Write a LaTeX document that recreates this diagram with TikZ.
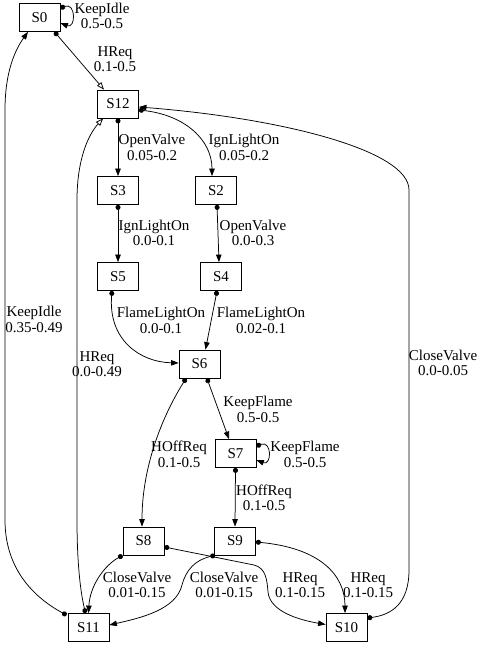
\documentclass[tikz,border=0pt]{standalone}
\usepackage{fontspec}
\setmainfont{Liberation Serif}
\usetikzlibrary{arrows.meta,calc}
\begin{document}
\begin{tikzpicture}[x=1pt,y=-1pt,
  state/.style={draw, line width=0.8pt, minimum width=41pt, minimum height=28pt, inner sep=0pt, font=\fontsize{15}{16}\selectfont},
  lbl/.style={align=center, inner sep=0pt, font=\fontsize{15}{15.5}\selectfont},
  tr/.style={line width=0.75pt, {Circle[length=5pt]}-{Triangle[length=7.5pt,width=5.5pt]}},
  tro/.style={line width=0.75pt, {Circle[length=5pt]}-{Triangle[open,length=7.5pt,width=5.5pt]}},
]
\useasboundingbox (0,0) rectangle (479,647);
% states
\node[state] (S0)  at (39.5,17.5) {S0};
\node[state] (S12) at (118,104) {S12};
\node[state] (S3)  at (118,190.5) {S3};
\node[state] (S2)  at (216,190.5) {S2};
\node[state] (S5)  at (118,276.5) {S5};
\node[state] (S4)  at (221,276.5) {S4};
\node[state] (S6)  at (199.5,364) {S6};
\node[state] (S7)  at (235.5,453.5) {S7};
\node[state] (S8)  at (143.5,541) {S8};
\node[state] (S9)  at (235,541) {S9};
\node[state] (S11) at (88.5,627.5) {S11};
\node[state] (S10) at (346.5,627.5) {S10};
% labels
\node[lbl] (l1)  at (102,16) {KeepIdle\\0.5-0.5};
\node[lbl] (l2)  at (115,59) {HReq\\0.1-0.5};
\node[lbl] (l3)  at (152,147.5) {OpenValve\\0.05-0.2};
\node[lbl] (l4)  at (244,147.5) {IgnLightOn\\0.05-0.2};
\node[lbl] (l5)  at (443,363) {CloseValve\\0.0-0.05};
\node[lbl] (l6)  at (154,233) {IgnLightOn\\0.0-0.1};
\node[lbl] (l7)  at (253,233) {OpenValve\\0.0-0.3};
\node[lbl] (l8)  at (161,320.5) {FlameLightOn\\0.0-0.1};
\node[lbl] (l9)  at (261,320.5) {FlameLightOn\\0.02-0.1};
\node[lbl] (l10) at (258,409.5) {KeepFlame\\0.5-0.5};
\node[lbl] (l11) at (305,454.5) {KeepFlame\\0.5-0.5};
\node[lbl] (l12) at (179,454.5) {HOffReq\\0.1-0.5};
\node[lbl] (l13) at (264,498) {HOffReq\\0.1-0.5};
\node[lbl] (l14) at (137,585) {CloseValve\\0.01-0.15};
\node[lbl] (l15) at (224,585) {CloseValve\\0.01-0.15};
\node[lbl] (l16) at (300,585) {HReq\\0.1-0.15};
\node[lbl] (l17) at (368,585) {HReq\\0.1-0.15};
\node[lbl] (l18) at (34,319.5) {KeepIdle\\0.35-0.49};
\node[lbl] (l19) at (97,364) {HReq\\0.0-0.49};
% edges
\draw[tr] ($(S0.north east)+(0,5)$) .. controls (76,2) and (76,29) .. ($(S0.north east)+(0,20)$);
\draw[tro] ($(S0.south)+(15,0)$) -- ($(S12.north)+(-14,0)$);
\draw[tr] (S12.south) -- (S3.north);
\draw[tr] ($(S12.east)+(0,6)$) .. controls (185,115) and (212,140) .. ($(S2.north)+(-4,0)$);
\draw[tr] ($(S10.east)+(0,-9.5)$) .. controls (390,615) and (409,605) .. (409,570) -- (409,190)
   .. controls (409,150) and (280,118) .. ($(S12.east)+(0,3)$);
\draw[tr] (S3.south) -- (S5.north);
\draw[tr] ($(S2.south)+(1,0)$) -- ($(S4.north)+(-2,0)$);
\draw[tr] ($(S5.south)+(-6,0)$) .. controls (108,340) and (140,362) .. ($(S6.west)+(0,-1)$);
\draw[tr] ($(S4.south)+(-4,0)$) -- ($(S6.north)+(6,0)$);
\draw[tr] ($(S6.south)+(7.5,0)$) -- ($(S7.north)+(-6.5,0)$);
\draw[tr] ($(S7.north east)+(0,7)$) .. controls (272,440) and (272,466) .. ($(S7.north east)+(0,21)$);
\draw[tr] ($(S6.south)+(-13.5,0)$) .. controls (160,420) and (142,470) .. ($(S8.north)+(-1.5,0)$);
\draw[tr] (S7.south) -- (S9.north);
\draw[tr] (S8.south west) .. controls (105,565) and (90,585) .. (S11.north);
\draw[tr] ($(S8.east)+(0,6)$) -- (254,565) .. controls (266,568) and (267,580) .. (268,592)
   .. controls (270,612) and (300,620) .. ($(S10.west)+(0,-3)$);
\draw[tr] ($(S9.south west)+(1,0)$) .. controls (195,560) and (186,570) .. (182,585)
   .. controls (176,610) and (140,618) .. ($(S11.east)+(0,-2.5)$);
\draw[tr] ($(S9.east)+(0,1)$) .. controls (320,548) and (345,575) .. ($(S10.north)+(-1.5,0)$);
\draw[tr] ($(S11.north west)+(-1,2)$) .. controls (35,598) and (5,570) .. (5,520) -- (5,110)
   .. controls (5,72) and (15,50) .. ($(S0.south)+(-11.5,0)$);
\draw[tro] ($(S11.north)+(-3,0)$) .. controls (80,590) and (77,560) .. (77,520) -- (77,200)
   .. controls (77,160) and (88,135) .. ($(S12.south west)+(6,0)$);
\end{tikzpicture}
\end{document}
